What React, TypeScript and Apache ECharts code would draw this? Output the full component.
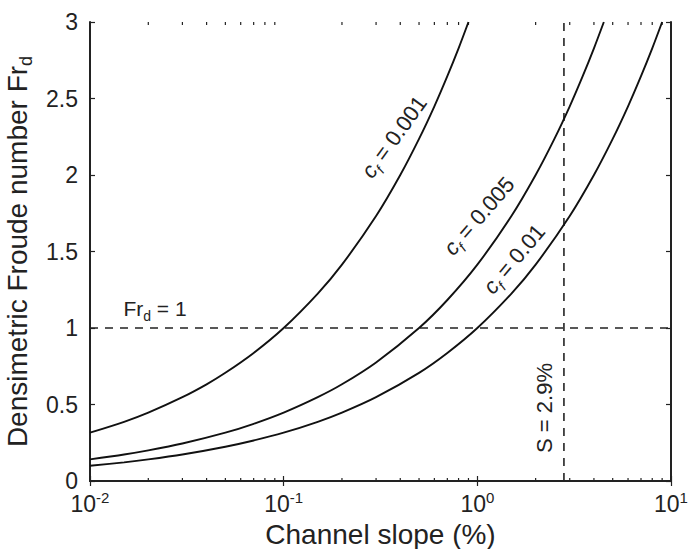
import { useEffect, useRef } from 'react';
import * as echarts from 'echarts';

const FONT = '"Liberation Sans", Arial, Helvetica, sans-serif';
const INK = '#222';

// Channel slope (%) and densimetric Froude number
const slopeA = [0.01, 0.015, 0.02, 0.03, 0.04, 0.05, 0.07, 0.1, 0.15, 0.2, 0.3, 0.4, 0.5, 0.6, 0.7, 0.8, 0.9];
const frA = [0.316, 0.387, 0.447, 0.548, 0.632, 0.707, 0.837, 1.0, 1.225, 1.414, 1.732, 2.0, 2.236, 2.449, 2.646, 2.828, 3.0];

const slopeB = [0.01, 0.015, 0.02, 0.03, 0.05, 0.07, 0.1, 0.15, 0.2, 0.3, 0.5, 0.7, 1, 1.5, 2, 2.5, 3, 3.5, 4, 4.5];
const frB = [0.141, 0.173, 0.2, 0.245, 0.316, 0.374, 0.447, 0.548, 0.632, 0.775, 1.0, 1.183, 1.414, 1.732, 2.0, 2.236, 2.449, 2.646, 2.828, 3.0];

const slopeC = [0.01, 0.015, 0.02, 0.03, 0.05, 0.07, 0.1, 0.15, 0.2, 0.3, 0.5, 0.7, 1, 1.5, 2, 3, 4, 5, 6, 7, 8, 9];
const frC = [0.1, 0.122, 0.141, 0.173, 0.224, 0.265, 0.316, 0.387, 0.447, 0.548, 0.707, 0.837, 1.0, 1.225, 1.414, 1.732, 2.0, 2.236, 2.449, 2.646, 2.828, 3.0];

const frOneX = [0.01, 10];
const frOneY = [1, 1];
const slopeMarkX = [2.8, 2.8];
const slopeMarkY = [0, 3];

const xMin = 0.01;
const xMax = 10;
const yMin = 0;
const yMax = 3;
const yInterval = 0.5;
const minorDecades = [-2, -1, 0];
const minorMultipliers = [2, 3, 4, 5, 6, 7, 8, 9];

const zip = (xs: number[], ys: number[]) => xs.map((x, i) => [x, ys[i]]);

export default function App() {
  const ref = useRef<HTMLDivElement>(null);

  useEffect(() => {
    const chart = echarts.init(ref.current!, null, { renderer: 'svg' });

    const axisLine = { show: true, lineStyle: { color: INK, width: 2 } };
    const baseX = {
      type: 'log' as const,
      logBase: 10,
      min: xMin,
      max: xMax,
      axisLine,
      axisTick: { show: true, inside: true, length: 5, lineStyle: { color: INK, width: 1.2 } },
      splitLine: { show: false },
      minorTick: { show: false },
    };
    const baseY = {
      type: 'value' as const,
      min: yMin,
      max: yMax,
      interval: yInterval,
      axisLine,
      axisTick: { show: true, inside: true, length: 5, lineStyle: { color: INK, width: 1.2 } },
      splitLine: { show: false },
    };

    const curve = (data: number[][]) => ({
      type: 'line' as const,
      data,
      smooth: 0.3,
      symbol: 'none',
      lineStyle: { color: '#111', width: 1.9 },
      xAxisIndex: 0,
      yAxisIndex: 0,
      z: 3,
    });
    const dashed = (data: number[][]) => ({
      type: 'line' as const,
      data,
      symbol: 'none',
      lineStyle: { color: '#222', width: 1.6, type: [8, 7] as any },
      xAxisIndex: 0,
      yAxisIndex: 0,
      z: 2,
    });

    const subRich = {
      i: { fontFamily: FONT, fontSize: 22, fontStyle: 'italic', lineHeight: 30, fill: INK },
      s: { fontFamily: FONT, fontSize: 14, fontStyle: 'italic', lineHeight: 14, verticalAlign: 'bottom', fill: INK },
      n: { fontFamily: FONT, fontSize: 22, lineHeight: 30, fill: INK },
    };

    chart.setOption({
      animation: false,
      backgroundColor: '#fff',
      grid: { left: 90, right: 20, top: 22, bottom: 68, containLabel: false, outerBoundsMode: 'none' },
      xAxis: [
        {
          ...baseX,
          position: 'bottom',
          name: 'Channel slope (%)',
          nameLocation: 'middle',
          nameGap: 37,
          nameTextStyle: { fontFamily: FONT, fontSize: 28, color: INK },
          axisLabel: {
            margin: 9,
            formatter: (v: number) => `{b|10}{s|${Math.round(Math.log10(v))}}`,
            rich: {
              b: { fontFamily: FONT, fontSize: 23, lineHeight: 28, color: INK },
              s: { fontFamily: FONT, fontSize: 15, lineHeight: 15, verticalAlign: 'top', color: INK },
            },
          },
        },
        { ...baseX, position: 'top', axisLabel: { show: false } },
      ],
      yAxis: [
        {
          ...baseY,
          position: 'left',
          name: 'Densimetric Froude number Fr{s|d}',
          nameLocation: 'middle',
          nameGap: 47,
          nameTextStyle: {
            fontFamily: FONT,
            fontSize: 28,
            color: INK,
            lineHeight: 36,
            rich: {
              s: { fontFamily: FONT, fontSize: 18, lineHeight: 18, verticalAlign: 'bottom', color: INK },
            },
          },
          axisLabel: { margin: 12, fontFamily: FONT, fontSize: 23, color: INK },
        },
        { ...baseY, position: 'right', axisLabel: { show: false } },
      ],
      series: [
        curve(zip(slopeA, frA)),
        curve(zip(slopeB, frB)),
        curve(zip(slopeC, frC)),
        dashed(zip(frOneX, frOneY)),
        dashed(zip(slopeMarkX, slopeMarkY)),
      ],
    });

    const bottom = chart.convertToPixel({ yAxisIndex: 0 }, yMin) as number;
    const top = chart.convertToPixel({ yAxisIndex: 0 }, yMax) as number;
    const minorTicks: any[] = [];
    minorDecades.forEach((d) => {
      minorMultipliers.forEach((k) => {
        const px = chart.convertToPixel({ xAxisIndex: 0 }, k * Math.pow(10, d)) as number;
        minorTicks.push({
          type: 'line',
          shape: { x1: px, y1: bottom, x2: px, y2: bottom - 3 },
          style: { stroke: INK, lineWidth: 1.2 },
          silent: true,
        });
        minorTicks.push({
          type: 'line',
          shape: { x1: px, y1: top, x2: px, y2: top + 3 },
          style: { stroke: INK, lineWidth: 1.2 },
          silent: true,
        });
      });
    });

    const deg = Math.PI / 180;
    const label = (text: string, x: number, y: number, angle: number) => ({
      type: 'text',
      x,
      y,
      rotation: angle * deg,
      style: {
        text,
        rich: subRich,
        align: 'center',
        verticalAlign: 'middle',
        fill: INK,
      },
      silent: true,
    });

    chart.setOption({
      graphic: [
        ...minorTicks,
        label('{i|c}{s|f}{n| = 0.001}', 394, 137, 54),
        label('{i|c}{s|f}{n| = 0.005}', 479, 216, 49),
        label('{i|c}{s|f}{n| = 0.01}', 514, 259, 50),
        {
          type: 'text',
          x: 155,
          y: 308,
          style: {
            text: '{n|Fr}{s|d}{n| = 1}',
            rich: {
              n: { fontFamily: FONT, fontSize: 21, lineHeight: 30, fill: INK },
              s: { fontFamily: FONT, fontSize: 14, lineHeight: 14, verticalAlign: 'bottom', fill: INK },
            },
            align: 'center',
            verticalAlign: 'middle',
          },
          silent: true,
        },
        {
          type: 'text',
          x: 544,
          y: 408,
          rotation: 90 * deg,
          style: {
            text: 'S = 2.9%',
            fontFamily: FONT,
            fontSize: 22,
            fill: INK,
            align: 'center',
            verticalAlign: 'middle',
          },
          silent: true,
        },
      ],
    });

    return () => chart.dispose();
  }, []);

  return (
    <div
      ref={ref}
      style={{ position: 'fixed', left: 0, top: 0, width: 691, height: 549, background: '#fff' }}
    />
  );
}
